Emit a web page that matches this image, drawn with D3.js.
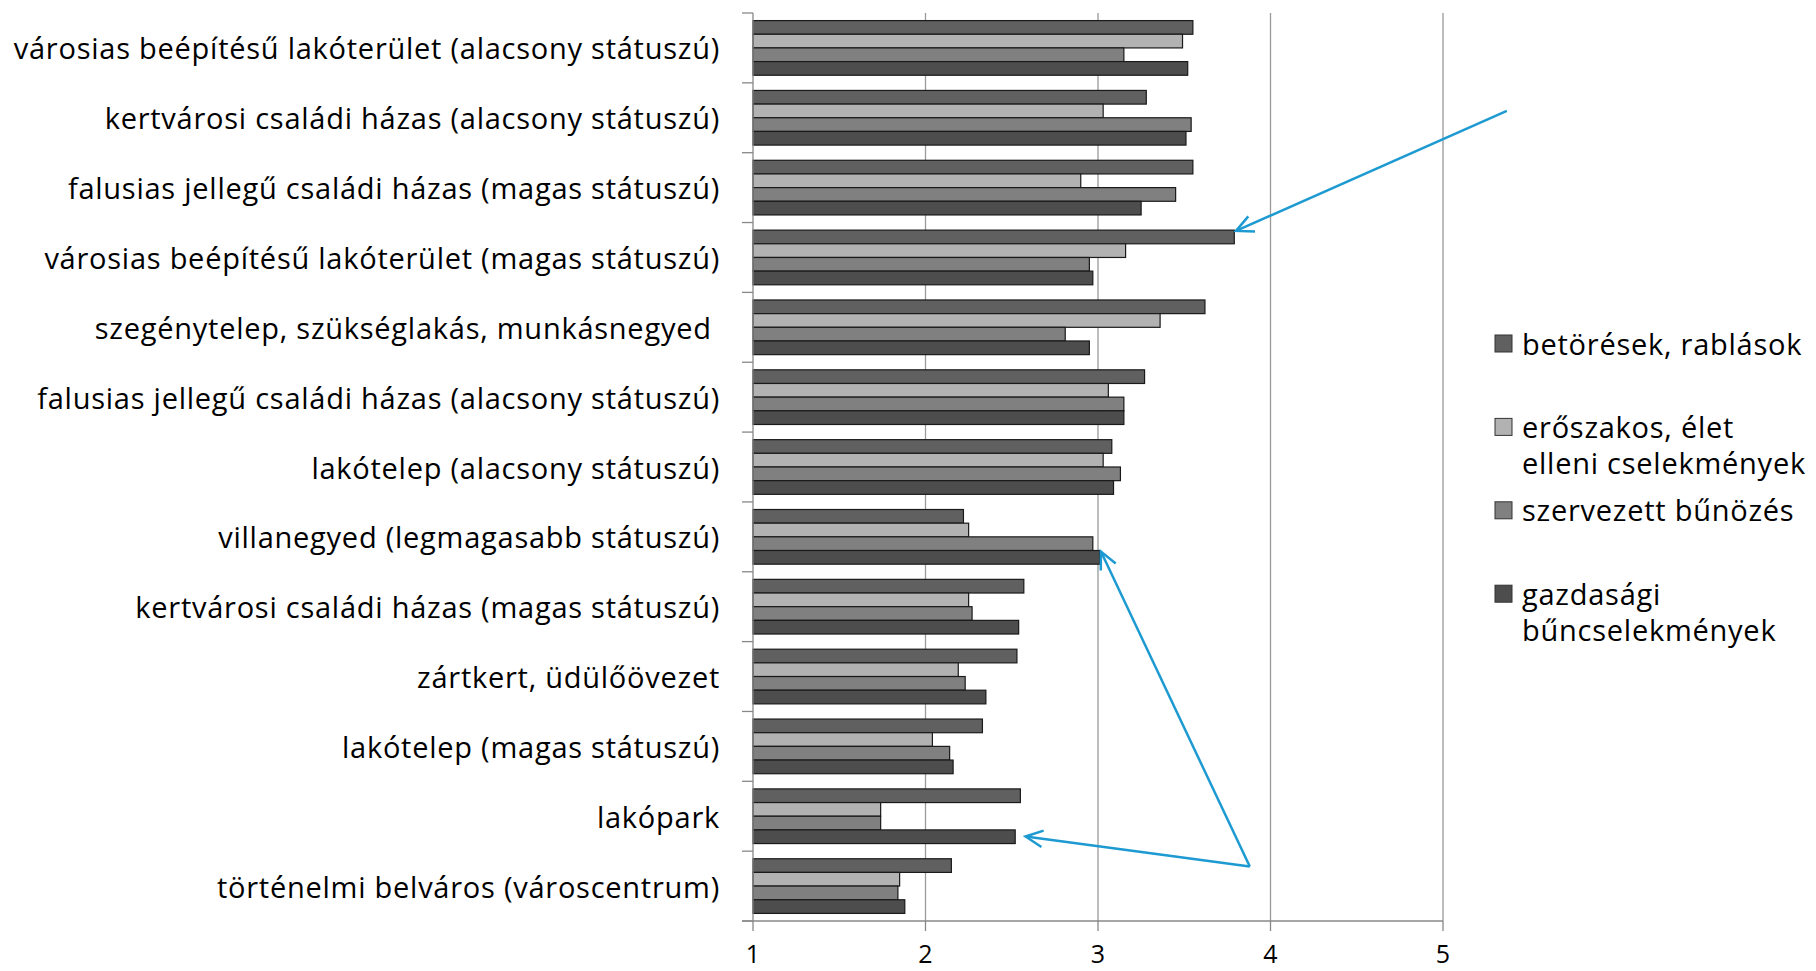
<!DOCTYPE html>
<html>
<head>
<meta charset="utf-8">
<script src="https://d3js.org/d3.v7.min.js"></script>
<style>
  body { margin: 0; background: #fff; }
  text { font-family: "Open Sans", sans-serif; fill: #000; }
</style>
</head>
<body>
<div id="chart"></div>
<script>
  const categories = [
    "városias beépítésű lakóterület (alacsony státuszú)",
    "kertvárosi családi házas (alacsony státuszú)",
    "falusias jellegű családi házas (magas státuszú)",
    "városias beépítésű lakóterület (magas státuszú)",
    "szegénytelep, szükséglakás, munkásnegyed ",
    "falusias jellegű családi házas (alacsony státuszú)",
    "lakótelep (alacsony státuszú)",
    "villanegyed (legmagasabb státuszú)",
    "kertvárosi családi házas (magas státuszú)",
    "zártkert, üdülőövezet",
    "lakótelep (magas státuszú)",
    "lakópark",
    "történelmi belváros (városcentrum)",
  ];

  const seriesNames = [
    "betörések, rablások",
    "erőszakos, élet elleni cselekmények",
    "szervezett bűnözés",
    "gazdasági bűncselekmények",
  ];

  // legend text is wrapped the way the original is
  const legendLines = [
    ["betörések, rablások"],
    ["erőszakos, élet", "elleni cselekmények"],
    ["szervezett bűnözés"],
    ["gazdasági", "bűncselekmények"],
  ];

  const betoresek = [3.55, 3.28, 3.55, 3.79, 3.62, 3.27, 3.08, 2.22, 2.57, 2.53, 2.33, 2.55, 2.15];
  const eroszakos = [3.49, 3.03, 2.90, 3.16, 3.36, 3.06, 3.03, 2.25, 2.25, 2.19, 2.04, 1.74, 1.85];
  const szervezett = [3.15, 3.54, 3.45, 2.95, 2.81, 3.15, 3.13, 2.97, 2.27, 2.23, 2.14, 1.74, 1.84];
  const gazdasagi = [3.52, 3.51, 3.25, 2.97, 2.95, 3.15, 3.09, 3.01, 2.54, 2.35, 2.16, 2.52, 1.88];

  const xTicks = [1, 2, 3, 4, 5];

  // annotation arrows: [value, category index, position inside the band]
  const arrows = [
    { from: [5.37, 1, 0.40], to: [3.80, 3, 0.12] },
    { from: [3.88, 12, 0.22], to: [3.017, 7, 0.71] },
    { from: [3.88, 12, 0.22], to: [2.58, 11, 0.79] },
  ];

  const colors = ["#606060", "#b2b2b2", "#808080", "#4d4d4d"];

  const width = 1816,
    height = 971;
  const plot = { left: 753, right: 1443, top: 13, bottom: 921 };
  const fontSize = "29px",
    spacing = "0.75px";

  const svg = d3
    .select("#chart")
    .append("svg")
    .attr("width", width)
    .attr("height", height)
    .style("background-color", "#fff");

  const x = d3.scaleLinear().domain([1, 5]).range([plot.left, plot.right]);
  const y0 = d3
    .scaleBand()
    .domain(d3.range(categories.length))
    .range([plot.top, plot.bottom]);
  const y1 = d3
    .scaleBand()
    .domain(d3.range(seriesNames.length))
    .range([0, y0.bandwidth()])
    .paddingOuter(0.555);

  const values = [betoresek, eroszakos, szervezett, gazdasagi];

  // gridlines
  svg
    .selectAll("line.grid")
    .data(xTicks.slice(1))
    .enter()
    .append("line")
    .attr("class", "grid")
    .attr("x1", (d) => x(d))
    .attr("x2", (d) => x(d))
    .attr("y1", plot.top)
    .attr("y2", plot.bottom)
    .attr("stroke", "#9a9a9a")
    .attr("stroke-width", 1.3);

  // bars
  const groups = svg
    .selectAll("g.cat")
    .data(categories)
    .enter()
    .append("g")
    .attr("class", "cat")
    .attr("transform", (d, i) => `translate(0,${y0(i)})`);

  groups
    .selectAll("rect")
    .data((d, i) => values.map((s, j) => ({ v: s[i], s: j })))
    .enter()
    .append("rect")
    .attr("x", x(1))
    .attr("y", (d) => y1(d.s))
    .attr("width", (d) => x(d.v) - x(1))
    .attr("height", y1.bandwidth())
    .attr("fill", (d) => colors[d.s])
    .attr("stroke", "#1a1a1a")
    .attr("stroke-width", 1.2);

  // category axis
  const yAxis = svg.append("g");
  yAxis
    .append("line")
    .attr("x1", plot.left)
    .attr("x2", plot.left)
    .attr("y1", plot.top)
    .attr("y2", plot.bottom)
    .attr("stroke", "#888")
    .attr("stroke-width", 1.3);
  yAxis
    .selectAll("line.tick")
    .data(d3.range(categories.length + 1))
    .enter()
    .append("line")
    .attr("class", "tick")
    .attr("x1", plot.left - 11)
    .attr("x2", plot.left)
    .attr("y1", (i) => plot.top + i * y0.step())
    .attr("y2", (i) => plot.top + i * y0.step())
    .attr("stroke", "#888")
    .attr("stroke-width", 1.3);
  yAxis
    .selectAll("text")
    .data(categories)
    .enter()
    .append("text")
    .attr("x", 720)
    .attr("y", (d, i) => y0(i) + y0.bandwidth() / 2)
    .attr("text-anchor", "end")
    .attr("dominant-baseline", "central")
    .style("white-space", "pre")
    .style("font-size", fontSize)
    .style("letter-spacing", spacing)
    .text((d) => d);

  // value axis
  const xAxis = svg.append("g");
  xAxis
    .append("line")
    .attr("x1", plot.left - 11)
    .attr("x2", plot.right)
    .attr("y1", plot.bottom)
    .attr("y2", plot.bottom)
    .attr("stroke", "#888")
    .attr("stroke-width", 1.3);
  xAxis
    .selectAll("line.tick")
    .data(xTicks)
    .enter()
    .append("line")
    .attr("class", "tick")
    .attr("x1", (d) => x(d))
    .attr("x2", (d) => x(d))
    .attr("y1", plot.bottom)
    .attr("y2", plot.bottom + 10)
    .attr("stroke", "#888")
    .attr("stroke-width", 1.3);
  xAxis
    .selectAll("text")
    .data(xTicks)
    .enter()
    .append("text")
    .attr("x", (d) => x(d))
    .attr("y", 963)
    .style("font-size", "25px")
    .attr("text-anchor", "middle")
    .text((d) => d);

  // legend
  const legend = svg
    .selectAll("g.legend")
    .data(legendLines)
    .enter()
    .append("g")
    .attr("class", "legend")
    .attr("transform", (d, i) => `translate(1495,${343 + i * 83.4})`);
  legend
    .append("rect")
    .attr("x", 0)
    .attr("y", -8)
    .attr("width", 17)
    .attr("height", 17)
    .attr("fill", (d, i) => colors[i])
    .attr("stroke", "#333")
    .attr("stroke-width", 1);
  legend
    .selectAll("text")
    .data((d) => d)
    .enter()
    .append("text")
    .attr("x", 27)
    .attr("y", (d, k) => k * 36)
    .attr("dominant-baseline", "central")
    .style("font-size", fontSize)
    .style("letter-spacing", spacing)
    .text((d) => d);

  // annotation arrows
  function pt(p) {
    return [x(p[0]), y0(p[1]) + p[2] * y0.bandwidth()];
  }
  const arrowColor = "#1d9ad1";
  arrows.forEach((a) => {
    const [x1, ya] = pt(a.from);
    const [x2, yb] = pt(a.to);
    svg
      .append("line")
      .attr("x1", x1)
      .attr("y1", ya)
      .attr("x2", x2)
      .attr("y2", yb)
      .attr("stroke", arrowColor)
      .attr("stroke-width", 2.5);
    const ang = Math.atan2(ya - yb, x1 - x2);
    const len = 19,
      spread = 0.45;
    const head = [ang - spread, ang + spread].map((t) => [
      x2 + len * Math.cos(t),
      yb + len * Math.sin(t),
    ]);
    svg
      .append("polyline")
      .attr(
        "points",
        `${head[0][0]},${head[0][1]} ${x2},${yb} ${head[1][0]},${head[1][1]}`
      )
      .attr("fill", "none")
      .attr("stroke", arrowColor)
      .attr("stroke-width", 2.5);
  });
</script>
</body>
</html>
